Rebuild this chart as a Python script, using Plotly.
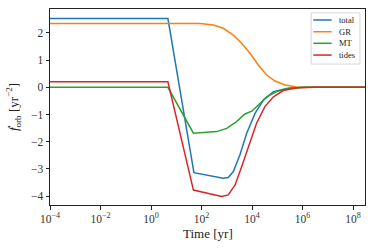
import plotly.graph_objects as go

# log10(time [yr]) sample points and series values
logt_total = [-4.0, 0.67, 1.70, 2.30, 2.86, 3.06, 3.26, 3.52, 3.79, 4.12, 4.45, 4.85, 5.37, 6.0, 7.0, 8.475]
total = [2.53, 2.53, -3.14, -3.24, -3.35, -3.32, -3.10, -2.49, -1.69, -0.96, -0.47, -0.16, -0.04, 0.0, 0.0, 0.0]

logt_gr = [-4.0, 0.67, 1.94, 2.47, 2.86, 3.26, 3.59, 3.92, 4.25, 4.58, 4.91, 5.31, 5.77, 6.3, 7.0, 8.475]
gr = [2.35, 2.35, 2.35, 2.29, 2.17, 1.92, 1.62, 1.25, 0.82, 0.45, 0.23, 0.085, 0.01, 0.0, 0.0, 0.0]

logt_mt = [-4.0, 0.67, 1.68, 2.60, 3.00, 3.39, 3.72, 3.85, 3.99, 4.25, 4.58, 4.98, 5.50, 6.2, 7.0, 8.475]
mt = [0.0, 0.0, -1.69, -1.63, -1.51, -1.26, -0.98, -0.92, -0.88, -0.65, -0.35, -0.16, -0.03, 0.0, 0.0, 0.0]

logt_tides = [-4.0, 0.67, 1.68, 2.30, 2.80, 3.06, 3.33, 3.59, 3.85, 4.18, 4.51, 4.85, 5.24, 5.80, 6.5, 7.0, 8.475]
tides = [0.2, 0.2, -3.78, -3.90, -4.02, -3.96, -3.59, -2.92, -2.18, -1.32, -0.71, -0.35, -0.12, -0.02, 0.0, 0.0, 0.0]

names = ["total", "GR", "MT", "tides"]
colors = ["#1f77b4", "#ff7f0e", "#2ca02c", "#d62728"]
xs = [logt_total, logt_gr, logt_mt, logt_tides]
ys = [total, gr, mt, tides]

font = "Liberation Serif, DejaVu Serif, serif"

fig = go.Figure()
for n, c, lx, s in zip(names, colors, xs, ys):
    fig.add_trace(go.Scatter(x=[10 ** v for v in lx], y=s, mode="lines", name=n,
                             line=dict(color=c, width=1.5), showlegend=False))

# matplotlib-style legend box in the upper right of the axes
fig.add_shape(type="rect", xref="paper", yref="paper", x0=0.829, x1=0.984, y0=0.719, y1=0.980,
              line=dict(color="#cccccc", width=0.8), fillcolor="rgba(255,255,255,0.85)", layer="above")
rows = [0.944, 0.884, 0.825, 0.765]
for n, c, ry in zip(names, colors, rows):
    fig.add_shape(type="line", xref="paper", yref="paper", x0=0.836, x1=0.894, y0=ry, y1=ry,
                  line=dict(color=c, width=1.5), layer="above")
    fig.add_annotation(xref="paper", yref="paper", x=0.912, y=ry, text=n, showarrow=False,
                       xanchor="left", yanchor="middle", font=dict(size=8.5, family=font, color="#222"))

# x-axis title placed as in the reference
fig.add_annotation(xref="paper", yref="paper", x=0.5, y=-0.143, text="Time [yr]", showarrow=False,
                   xanchor="center", yanchor="middle", font=dict(size=13, family=font, color="#222"))

xtickvals = [1e-4, 1e-2, 1, 1e2, 1e4, 1e6, 1e8]
xticktext = ["10<sup>−4</sup>", "10<sup>−2</sup>", "10<sup>0</sup>", "10<sup>2</sup>",
             "10<sup>4</sup>", "10<sup>6</sup>", "10<sup>8</sup>"]
ytickvals = [-4, -3, -2, -1, 0, 1, 2]
yticktext = ["−4", "−3", "−2", "−1", "0", "1", "2"]

fig.update_layout(
    width=374, height=249,
    margin=dict(l=50, r=9, t=9, b=44),
    paper_bgcolor="white", plot_bgcolor="white",
    font=dict(family=font, size=11.5, color="#222"),
    showlegend=False,
    xaxis=dict(type="log", range=[-4, 8.475], tickvals=xtickvals, ticktext=xticktext,
               ticks="outside", ticklen=3.5, tickwidth=0.8, tickcolor="#222",
               tickfont=dict(size=11.5, family=font, color="#333"),
               showline=True, linecolor="#222", linewidth=1, mirror=True,
               showgrid=False, zeroline=False),
    yaxis=dict(range=[-4.33, 2.88], tickvals=ytickvals, ticktext=yticktext,
               ticks="outside", ticklen=3.5, tickwidth=0.8, tickcolor="#222",
               tickfont=dict(size=11.5, family=font, color="#333"),
               showline=True, linecolor="#222", linewidth=1, mirror=True,
               showgrid=False, zeroline=False,
               title=dict(text="<i>ḟ</i><sub>orb</sub> [yr<sup>−2</sup>]",
                          font=dict(size=13, family=font), standoff=9)),
)

fig.write_html("out.html", config={"displayModeBar": False},
               post_script="document.body.style.margin='0';document.body.style.padding='0';")
